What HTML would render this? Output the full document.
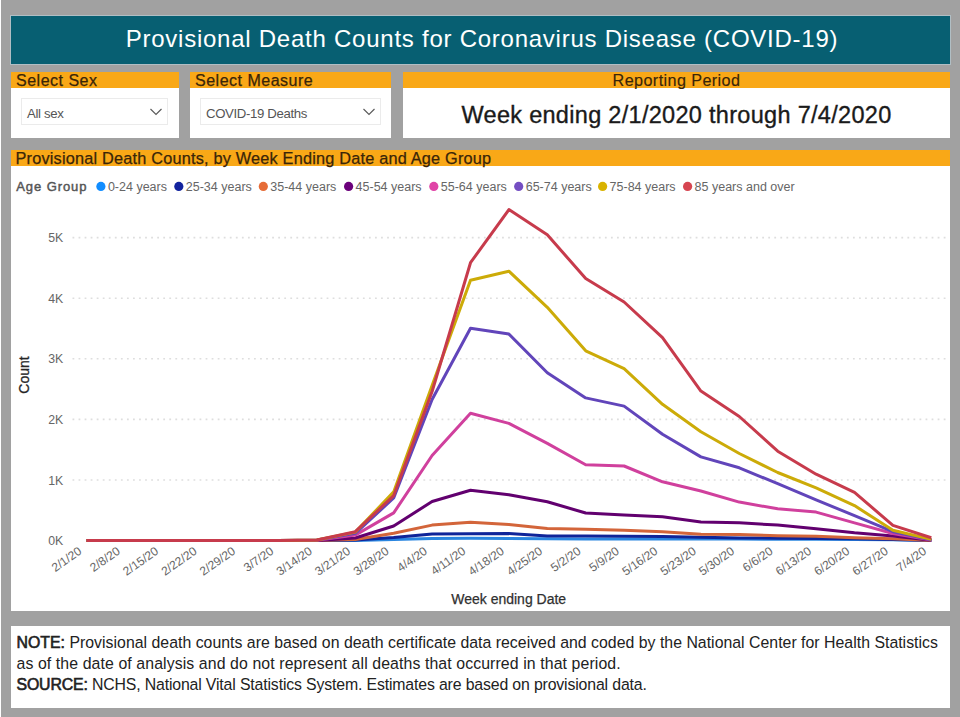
<!DOCTYPE html>
<html><head><meta charset="utf-8">
<style>
html,body{margin:0;padding:0}
body{width:960px;height:717px;background:#a1a1a1;position:relative;overflow:hidden;font-family:"Liberation Sans",sans-serif}
.abs{position:absolute}
.strip{left:0;top:0;width:1px;height:717px;background:#fff}
.title{left:11px;top:16px;width:939px;height:48px;background:#075f72;box-shadow:0 0 0 1px #b0bec4;color:#fff;font-size:24px;letter-spacing:0.75px;line-height:45.5px;text-align:center;padding-left:3px;box-sizing:border-box;white-space:nowrap}
.panel{background:#fff}
.hdr{position:absolute;left:0;top:0;right:0;height:16px;background:#f9a817;color:#3a2508;font-size:16px;line-height:17px;padding-left:5px;white-space:nowrap;letter-spacing:0.5px;-webkit-text-stroke:0.25px #3a2508}
.dd{position:absolute;top:26px;height:27px;box-sizing:border-box;border:1px solid #ebebeb;background:#fff;color:#555;font-size:13.2px;letter-spacing:-0.35px;line-height:30px;padding-left:5px;white-space:nowrap}
.chev{position:absolute;right:4px;top:9px}
.note{left:11px;top:626px;width:939px;height:82px;background:#fff;color:#222;font-size:15.85px;line-height:21px}
.note div{position:absolute;left:5.5px;white-space:nowrap}
.note b{font-weight:normal;-webkit-text-stroke:0.6px #222}
svg text{font-family:"Liberation Sans",sans-serif}
.yl{font-size:12.3px;fill:#666}
.xl{font-size:12px;fill:#666}
.lg{font-size:12.5px;fill:#666}
</style></head><body>
<div class="abs strip"></div>
<div class="abs title">Provisional Death Counts for Coronavirus Disease (COVID-19)</div>

<div class="abs panel" style="left:11px;top:72px;width:168px;height:66px">
 <div class="hdr">Select Sex</div>
 <div class="dd" style="left:10px;width:147px">All sex<svg class="chev" width="14" height="8" viewBox="0 0 14 8"><path d="M1.5 1 L7 6.5 L12.5 1" fill="none" stroke="#5a5a5a" stroke-width="1.15"/></svg></div>
</div>
<div class="abs panel" style="left:190px;top:72px;width:201px;height:66px">
 <div class="hdr">Select Measure</div>
 <div class="dd" style="left:10px;width:181px">COVID-19 Deaths<svg class="chev" width="14" height="8" viewBox="0 0 14 8"><path d="M1.5 1 L7 6.5 L12.5 1" fill="none" stroke="#5a5a5a" stroke-width="1.15"/></svg></div>
</div>
<div class="abs panel" style="left:403px;top:72px;width:547px;height:66px">
 <div class="hdr" style="text-align:center;padding-left:0;font-size:16.2px;letter-spacing:0.4px;-webkit-text-stroke:0.15px #3a2508">Reporting Period</div>
 <div style="position:absolute;left:0;right:0;top:29.8px;text-align:center;font-size:23.5px;color:#1a1a1a;white-space:nowrap;letter-spacing:0.3px;-webkit-text-stroke:0.35px #1a1a1a">Week ending 2/1/2020 through 7/4/2020</div>
</div>

<div class="abs panel" style="left:11px;top:150px;width:939px;height:461px">
 <div class="hdr" style="font-size:16.3px;padding-left:4.5px;letter-spacing:0.2px">Provisional Death Counts, by Week Ending Date and Age Group</div>
</div>
<svg class="abs" style="left:0;top:0" width="960" height="717" viewBox="0 0 960 717">
<text x="16.3" y="191" style="font-size:13px;fill:#555;stroke:#555;stroke-width:0.45px;letter-spacing:0.9px">Age Group</text>
<circle cx="100.9" cy="186.4" r="4.6" fill="#118DFF"/><text x="107.9" y="190.9" class="lg">0-24 years</text>
<circle cx="178.8" cy="186.4" r="4.6" fill="#12239E"/><text x="185.8" y="190.9" class="lg">25-34 years</text>
<circle cx="263.3" cy="186.4" r="4.6" fill="#E66C37"/><text x="270.3" y="190.9" class="lg">35-44 years</text>
<circle cx="348.6" cy="186.4" r="4.6" fill="#6B007B"/><text x="355.6" y="190.9" class="lg">45-54 years</text>
<circle cx="433.8" cy="186.4" r="4.6" fill="#E044A7"/><text x="440.8" y="190.9" class="lg">55-64 years</text>
<circle cx="518.7" cy="186.4" r="4.6" fill="#744EC2"/><text x="525.7" y="190.9" class="lg">65-74 years</text>
<circle cx="602.6" cy="186.4" r="4.6" fill="#D9B300"/><text x="609.6" y="190.9" class="lg">75-84 years</text>
<circle cx="687.6" cy="186.4" r="4.6" fill="#D64550"/><text x="694.6" y="190.9" class="lg">85 years and over</text>
<text x="63.2" y="545.2" text-anchor="end" class="yl">0K</text>
<line x1="72.5" y1="480.0" x2="946" y2="480.0" stroke="#dedede" stroke-width="1.6" stroke-dasharray="1.8 4.25"/>
<text x="63.2" y="484.6" text-anchor="end" class="yl">1K</text>
<line x1="72.5" y1="419.4" x2="946" y2="419.4" stroke="#dedede" stroke-width="1.6" stroke-dasharray="1.8 4.25"/>
<text x="63.2" y="424.0" text-anchor="end" class="yl">2K</text>
<line x1="72.5" y1="358.8" x2="946" y2="358.8" stroke="#dedede" stroke-width="1.6" stroke-dasharray="1.8 4.25"/>
<text x="63.2" y="363.4" text-anchor="end" class="yl">3K</text>
<line x1="72.5" y1="298.2" x2="946" y2="298.2" stroke="#dedede" stroke-width="1.6" stroke-dasharray="1.8 4.25"/>
<text x="63.2" y="302.8" text-anchor="end" class="yl">4K</text>
<line x1="72.5" y1="237.6" x2="946" y2="237.6" stroke="#dedede" stroke-width="1.6" stroke-dasharray="1.8 4.25"/>
<text x="63.2" y="242.2" text-anchor="end" class="yl">5K</text>
<polyline points="86.5,540.6 124.9,540.6 163.3,540.6 201.7,540.6 240.1,540.6 278.5,540.6 316.9,540.6 355.3,540.4 393.7,539.4 432.1,538.4 470.5,538.2 508.9,538.6 547.3,538.8 585.7,538.9 624.1,538.9 662.5,539.0 700.9,539.1 739.3,539.1 777.7,539.3 816.1,539.3 854.5,539.4 892.9,539.7 931.3,540.5" fill="none" stroke="#2a86e0" stroke-width="3" stroke-linejoin="round" stroke-linecap="butt"/>
<polyline points="86.5,540.6 124.9,540.6 163.3,540.6 201.7,540.6 240.1,540.6 278.5,540.6 316.9,540.5 355.3,540.1 393.7,537.6 432.1,534.1 470.5,533.7 508.9,533.6 547.3,536.1 585.7,536.1 624.1,536.3 662.5,536.6 700.9,537.3 739.3,537.9 777.7,538.2 816.1,538.5 854.5,538.8 892.9,539.4 931.3,540.5" fill="none" stroke="#0f2499" stroke-width="3" stroke-linejoin="round" stroke-linecap="butt"/>
<polyline points="86.5,540.6 124.9,540.6 163.3,540.6 201.7,540.6 240.1,540.6 278.5,540.6 316.9,540.5 355.3,539.4 393.7,533.3 432.1,525.1 470.5,522.3 508.9,524.4 547.3,528.6 585.7,529.3 624.1,530.3 662.5,531.8 700.9,534.3 739.3,534.5 777.7,535.7 816.1,536.3 854.5,537.7 892.9,538.8 931.3,540.4" fill="none" stroke="#d3653a" stroke-width="3" stroke-linejoin="round" stroke-linecap="butt"/>
<polyline points="86.5,540.6 124.9,540.6 163.3,540.6 201.7,540.6 240.1,540.6 278.5,540.6 316.9,540.4 355.3,538.0 393.7,526.0 432.1,501.5 470.5,490.3 508.9,494.8 547.3,501.8 585.7,513.0 624.1,515.0 662.5,516.8 700.9,522.0 739.3,522.8 777.7,525.1 816.1,528.7 854.5,532.8 892.9,535.9 931.3,540.3" fill="none" stroke="#62006f" stroke-width="3" stroke-linejoin="round" stroke-linecap="butt"/>
<polyline points="86.5,540.6 124.9,540.6 163.3,540.6 201.7,540.6 240.1,540.6 278.5,540.6 316.9,540.3 355.3,535.1 393.7,512.9 432.1,455.5 470.5,413.3 508.9,423.4 547.3,443.4 585.7,464.7 624.1,466.0 662.5,481.8 700.9,491.0 739.3,502.1 777.7,508.8 816.1,512.1 854.5,522.9 892.9,533.5 931.3,540.0" fill="none" stroke="#d0409d" stroke-width="3" stroke-linejoin="round" stroke-linecap="butt"/>
<polyline points="86.5,540.6 124.9,540.6 163.3,540.6 201.7,540.6 240.1,540.6 278.5,540.6 316.9,540.1 355.3,533.3 393.7,498.0 432.1,399.5 470.5,328.2 508.9,334.1 547.3,372.7 585.7,397.9 624.1,406.1 662.5,434.2 700.9,456.9 739.3,467.8 777.7,483.7 816.1,499.8 854.5,515.7 892.9,531.7 931.3,539.7" fill="none" stroke="#6145ba" stroke-width="3" stroke-linejoin="round" stroke-linecap="butt"/>
<polyline points="86.5,540.6 124.9,540.6 163.3,540.6 201.7,540.6 240.1,540.6 278.5,540.6 316.9,540.0 355.3,532.1 393.7,491.9 432.1,385.5 470.5,280.3 508.9,271.2 547.3,307.3 585.7,350.8 624.1,368.7 662.5,404.3 700.9,431.7 739.3,453.5 777.7,472.5 816.1,487.9 854.5,505.6 892.9,530.3 931.3,539.4" fill="none" stroke="#ccab08" stroke-width="3" stroke-linejoin="round" stroke-linecap="butt"/>
<polyline points="86.5,540.6 124.9,540.6 163.3,540.6 201.7,540.6 240.1,540.6 278.5,540.6 316.9,540.0 355.3,531.7 393.7,495.6 432.1,391.5 470.5,262.7 508.9,209.6 547.3,234.8 585.7,278.5 624.1,302.0 662.5,337.7 700.9,391.1 739.3,416.5 777.7,451.2 816.1,474.2 854.5,492.4 892.9,525.4 931.3,537.7" fill="none" stroke="#c73b4c" stroke-width="3" stroke-linejoin="round" stroke-linecap="butt"/>
<text transform="translate(82.5,553) rotate(-35)" text-anchor="end" class="xl">2/1/20</text>
<text transform="translate(120.9,553) rotate(-35)" text-anchor="end" class="xl">2/8/20</text>
<text transform="translate(159.3,553) rotate(-35)" text-anchor="end" class="xl">2/15/20</text>
<text transform="translate(197.7,553) rotate(-35)" text-anchor="end" class="xl">2/22/20</text>
<text transform="translate(236.1,553) rotate(-35)" text-anchor="end" class="xl">2/29/20</text>
<text transform="translate(274.5,553) rotate(-35)" text-anchor="end" class="xl">3/7/20</text>
<text transform="translate(312.9,553) rotate(-35)" text-anchor="end" class="xl">3/14/20</text>
<text transform="translate(351.3,553) rotate(-35)" text-anchor="end" class="xl">3/21/20</text>
<text transform="translate(389.7,553) rotate(-35)" text-anchor="end" class="xl">3/28/20</text>
<text transform="translate(428.1,553) rotate(-35)" text-anchor="end" class="xl">4/4/20</text>
<text transform="translate(466.5,553) rotate(-35)" text-anchor="end" class="xl">4/11/20</text>
<text transform="translate(504.9,553) rotate(-35)" text-anchor="end" class="xl">4/18/20</text>
<text transform="translate(543.3,553) rotate(-35)" text-anchor="end" class="xl">4/25/20</text>
<text transform="translate(581.7,553) rotate(-35)" text-anchor="end" class="xl">5/2/20</text>
<text transform="translate(620.1,553) rotate(-35)" text-anchor="end" class="xl">5/9/20</text>
<text transform="translate(658.5,553) rotate(-35)" text-anchor="end" class="xl">5/16/20</text>
<text transform="translate(696.9,553) rotate(-35)" text-anchor="end" class="xl">5/23/20</text>
<text transform="translate(735.3,553) rotate(-35)" text-anchor="end" class="xl">5/30/20</text>
<text transform="translate(773.7,553) rotate(-35)" text-anchor="end" class="xl">6/6/20</text>
<text transform="translate(812.1,553) rotate(-35)" text-anchor="end" class="xl">6/13/20</text>
<text transform="translate(850.5,553) rotate(-35)" text-anchor="end" class="xl">6/20/20</text>
<text transform="translate(888.9,553) rotate(-35)" text-anchor="end" class="xl">6/27/20</text>
<text transform="translate(927.3,553) rotate(-35)" text-anchor="end" class="xl">7/4/20</text>
<text transform="translate(28.6,375) rotate(-90)" text-anchor="middle" style="font-size:14px;fill:#252525;stroke:#252525;stroke-width:0.3px">Count</text>
<text x="508.7" y="604" text-anchor="middle" style="font-size:14px;fill:#303030;stroke:#303030;stroke-width:0.25px">Week ending Date</text>
</svg>

<div class="abs note">
 <div style="top:6px;letter-spacing:0.015px"><b>NOTE:</b> Provisional death counts are based on death certificate data received and coded by the National Center for Health Statistics</div>
 <div style="top:27px;letter-spacing:0.1px">as of the date of analysis and do not represent all deaths that occurred in that period.</div>
 <div style="top:48px;letter-spacing:-0.15px"><b>SOURCE:</b> NCHS, National Vital Statistics System. Estimates are based on provisional data.</div>
</div>
</body></html>
